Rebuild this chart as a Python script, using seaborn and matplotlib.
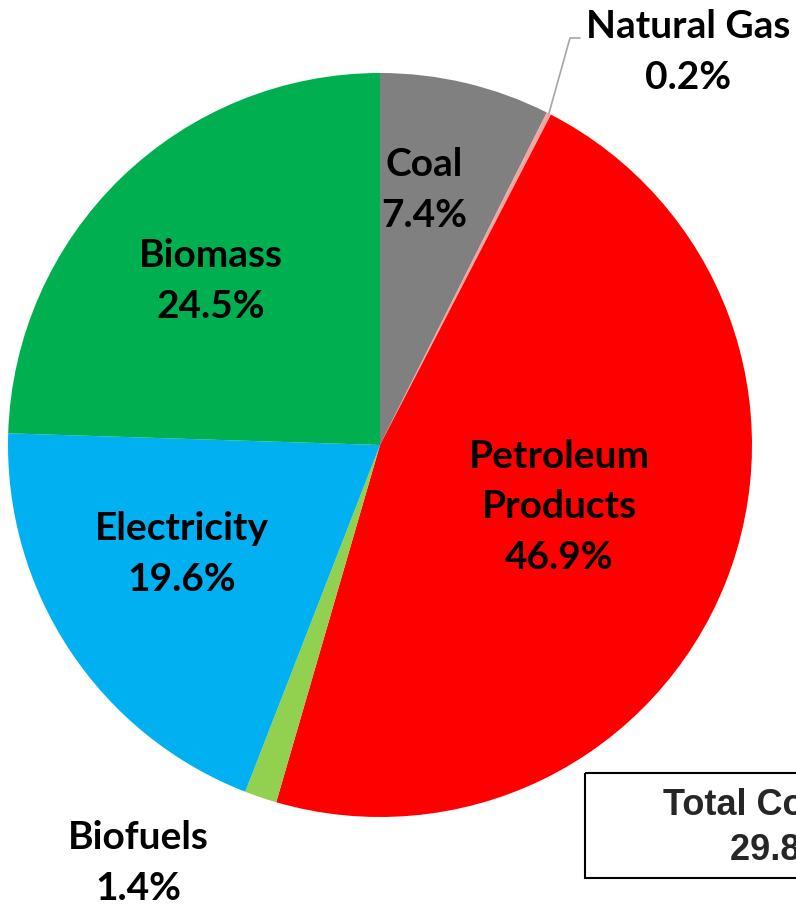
import numpy as np
import matplotlib
matplotlib.use('Agg')
import matplotlib.pyplot as plt
import seaborn as sns
from matplotlib.patches import Rectangle

sources = ['Coal', 'Natural Gas', 'Petroleum\nProducts', 'Biofuels',
           'Electricity', 'Biomass']
shares = [7.4, 0.2, 46.9, 1.4, 19.6, 24.5]
colors = ['#808080', '#F4A6A0', '#FF0000', '#92D050', '#00B0F0', '#00B050']
total_label = 'Total Consumption\n29.8 Quads'

# label centres in pixel coords (layout only)
label_pos = [(424, 190), (688, 52), (559, 507), (138, 863),
             (182, 554), (211, 281)]

W, H = 796, 906
CX, CY, R = 380, 445, 372

sns.set_theme(style='white')
plt.rcParams['font.family'] = ['Lato', 'DejaVu Sans']

fig = plt.figure(figsize=(W / 100, H / 100), dpi=100)
ax = fig.add_axes([0, 0, 1, 1])
ax.pie(shares, colors=colors, startangle=-90, counterclock=True,
       center=(CX, CY), radius=R, wedgeprops={'linewidth': 0})
ax.set_xlim(0, W)
ax.set_ylim(H, 0)
ax.set_aspect('equal')
ax.axis('off')

for name, val, (x, y) in zip(sources, shares, label_pos):
    ax.text(x, y, f'{name}\n{val}%', ha='center', va='center',
            fontsize=28, fontweight='bold', color='black', linespacing=1.52)

# leader line for the thin natural gas slice
mid = np.deg2rad((shares[0] + shares[1] / 2) / 100 * 360)
px, py = CX + R * np.sin(mid), CY - R * np.cos(mid)
ax.plot([px, 570, 580], [py, 38, 38], color='#A6A6A6', lw=1.2)

ax.add_patch(Rectangle((585, 773), 500, 105, fill=False, ec='black',
                       lw=1.5, clip_on=False))
ax.text(826, 828, total_label, ha='center', va='center', fontsize=26,
        fontweight='bold', family=['Liberation Sans', 'DejaVu Sans'],
        linespacing=1.35, clip_on=False)

fig.savefig('out.png', dpi=100)
